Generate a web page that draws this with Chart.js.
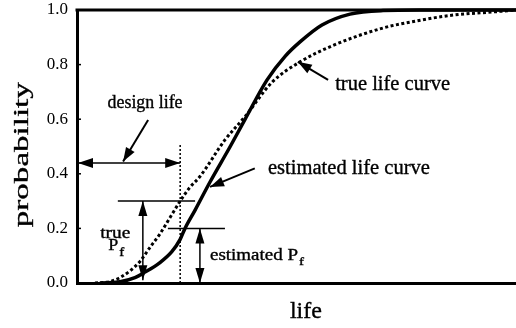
<!DOCTYPE html>
<html>
<head>
<meta charset="utf-8">
<script src="https://cdn.jsdelivr.net/npm/chart.js@4/dist/chart.umd.min.js"></script>
<style>
  html, body { margin: 0; padding: 0; background: #fff; }
  #wrap { width: 516px; height: 328px; position: relative; }
</style>
</head>
<body>
<div id="wrap"><canvas id="life-chart"></canvas></div>
<script>
// ─── DATA ─────────────────────────────────────────────────
// life in arbitrary units (0..100), probability of failure
const estLife  = [5.2, 9.8, 13.2, 15.5, 18.9, 21.6, 23.5, 24.6, 26.9, 30.3, 34.9, 38.3, 43.3, 47.4, 50.8, 55.8, 62.2, 69.7, 78.1, 100];
const estProb  = [0, 0.005, 0.02, 0.04, 0.075, 0.115, 0.16, 0.2, 0.267, 0.37, 0.50, 0.60, 0.744, 0.83, 0.883, 0.945, 0.985, 0.998, 1.0, 1.0];
const trueLife = [4.1, 7.5, 9.8, 12.1, 14.4, 16.6, 18.9, 21.2, 23.5, 25.7, 28.0, 33.7, 38.3, 44.4, 50.8, 58.3, 69.7, 77.4, 85.0, 96.4, 100];
const trueProb = [0, 0.005, 0.02, 0.045, 0.08, 0.13, 0.18, 0.24, 0.30, 0.35, 0.39, 0.524, 0.61, 0.735, 0.81, 0.87, 0.934, 0.96, 0.98, 0.995, 1.0];
const yTicks   = [0, 0.2, 0.4, 0.6, 0.8, 1.0];

const designLife = 23.5;
const truePf = 0.3;
const estPf = 0.2;

const SERIF = '"Liberation Serif", "Times New Roman", serif';

// ─── DRAW HELPERS ─────────────────────────────────────────
function head(ctx, x1, y1, x2, y2, len, half) {
  const a = Math.atan2(y2 - y1, x2 - x1);
  ctx.beginPath();
  ctx.moveTo(x2, y2);
  ctx.lineTo(x2 - len * Math.cos(a) + half * Math.sin(a), y2 - len * Math.sin(a) - half * Math.cos(a));
  ctx.lineTo(x2 - len * Math.cos(a) - half * Math.sin(a), y2 - len * Math.sin(a) + half * Math.cos(a));
  ctx.closePath();
  ctx.fill();
}

function arrow(ctx, x1, y1, x2, y2, both, len, half, lw) {
  ctx.lineWidth = lw || 1.5;
  ctx.beginPath(); ctx.moveTo(x1, y1); ctx.lineTo(x2, y2); ctx.stroke();
  head(ctx, x1, y1, x2, y2, len || 14, half || 5);
  if (both) head(ctx, x2, y2, x1, y1, len || 14, half || 5);
}

// text squeezed/stretched to a measured width, with a light stroke for the scanned look
function text(ctx, str, x, y, size, width, align) {
  ctx.font = size + 'px ' + SERIF;
  const w = ctx.measureText(str).width;
  ctx.save();
  ctx.translate(x, y);
  ctx.scale(width ? width / w : 1, 1);
  ctx.textAlign = align || 'left';
  ctx.textBaseline = 'alphabetic';
  ctx.lineWidth = 0.35;
  ctx.fillText(str, 0, 0);
  ctx.strokeText(str, 0, 0);
  ctx.restore();
  return width || w;
}

// ─── ANNOTATIONS ──────────────────────────────────────────
const annotate = {
  id: 'annotate',
  afterDatasetsDraw(chart) {
    const { ctx, chartArea: ca, scales: { x, y } } = chart;
    const X = v => x.getPixelForValue(v);
    const Y = v => y.getPixelForValue(v);
    ctx.save();
    ctx.fillStyle = '#000';
    ctx.strokeStyle = '#000';

    // top frame line at 1.0
    ctx.lineWidth = 3;
    ctx.beginPath(); ctx.moveTo(ca.left - 1.5, Y(1)); ctx.lineTo(ca.right, Y(1)); ctx.stroke();

    // inward tick marks
    ctx.lineWidth = 1.5;
    yTicks.slice(1, -1).forEach(t => {
      ctx.beginPath(); ctx.moveTo(ca.left, Y(t)); ctx.lineTo(ca.left + 4, Y(t)); ctx.stroke();
    });

    // design life dotted marker
    ctx.lineWidth = 1.5;
    ctx.setLineDash([2, 2]);
    ctx.beginPath(); ctx.moveTo(X(designLife), Y(0)); ctx.lineTo(X(designLife), Y(0.51)); ctx.stroke();
    ctx.setLineDash([]);

    // design life span
    arrow(ctx, X(0) + 1, Y(0.44), X(designLife), Y(0.44), true, 15, 5);
    arrow(ctx, X(16.2), Y(0.597), X(10.5), Y(0.445), false, 14, 5, 2);
    text(ctx, 'design life', X(15.5), Y(0.641), 18, 75, 'center');

    // true Pf
    ctx.lineWidth = 1.5;
    ctx.beginPath(); ctx.moveTo(X(9.3), Y(truePf)); ctx.lineTo(X(26.9), Y(truePf)); ctx.stroke();
    arrow(ctx, X(15.0), Y(0.01), X(15.0), Y(truePf), true, 15, 4.5);
    text(ctx, 'true', X(8.7), Y(0.165), 16, 30, 'center');
    const pw = text(ctx, 'P', X(7.1), Y(0.121), 17, 10);
    text(ctx, 'f', X(7.1) + pw + 1, Y(0.121) + 6, 12, 5);

    // estimated Pf
    ctx.lineWidth = 1.5;
    ctx.beginPath(); ctx.moveTo(X(20.7), Y(estPf)); ctx.lineTo(X(33.7), Y(estPf)); ctx.stroke();
    arrow(ctx, X(28.0), Y(0), X(28.0), Y(estPf), true, 15, 4.5);
    const ew = text(ctx, 'estimated P', X(30.3), Y(0.084), 16, 88);
    text(ctx, 'f', X(30.3) + ew + 1, Y(0.084) + 5, 11, 5);

    // curve labels
    arrow(ctx, X(40.5), Y(0.42), X(30.3), Y(0.352), false, 14, 5, 2);
    text(ctx, 'estimated life curve', X(43.5), Y(0.40), 20, 162);
    arrow(ctx, X(57.2), Y(0.744), X(50.3), Y(0.81), false, 14, 5, 2);
    text(ctx, 'true life curve', X(58.8), Y(0.707), 20, 115);

    // axis titles
    text(ctx, 'life', X(48.5), ca.bottom + 35, 24, 32);
    ctx.save();
    ctx.translate(ca.left - 49, Y(0.47));
    ctx.rotate(-Math.PI / 2);
    text(ctx, 'probability', 0, 0, 22, 145, 'center');
    ctx.restore();

    ctx.restore();
  }
};

// ─── CHART ────────────────────────────────────────────────
const toPts = (xs, ys) => xs.map((v, i) => ({ x: v, y: ys[i] }));

new Chart(document.getElementById('life-chart').getContext('2d'), {
  type: 'scatter',
  data: {
    datasets: [{
      label: 'estimated life curve',
      data: toPts(estLife, estProb),
      showLine: true,
      borderColor: '#000',
      borderWidth: 3.5,
      pointRadius: 0,
      cubicInterpolationMode: 'monotone',
      clip: false,
    }, {
      label: 'true life curve',
      data: toPts(trueLife, trueProb),
      showLine: true,
      borderColor: '#000',
      borderWidth: 3,
      borderDash: [3, 2.5],
      pointRadius: 0,
      cubicInterpolationMode: 'monotone',
      clip: false,
    }]
  },
  options: {
    responsive: true,
    maintainAspectRatio: false,
    animation: false,
    layout: { padding: 0 },
    plugins: { legend: { display: false }, tooltip: { enabled: false } },
    scales: {
      x: {
        type: 'linear', min: 0, max: 100,
        grid: { display: false, drawTicks: false },
        ticks: { display: false },
        border: { display: true, color: '#000', width: 3 },
        afterFit: s => { s.height = 45; s.paddingLeft = 0; s.paddingRight = 0; }
      },
      y: {
        min: 0, max: 1,
        afterBuildTicks: s => { s.ticks = yTicks.map(v => ({ value: v })); },
        grid: { display: false, drawTicks: false },
        border: { display: true, color: '#000', width: 3 },
        ticks: {
          color: '#000', padding: 9,
          font: { family: SERIF, size: 17 },
          callback: v => v.toFixed(1)
        },
        afterFit: s => { s.width = 77; s.paddingTop = 10; s.paddingBottom = 0; }
      }
    }
  },
  plugins: [annotate]
});
</script>
</body>
</html>
